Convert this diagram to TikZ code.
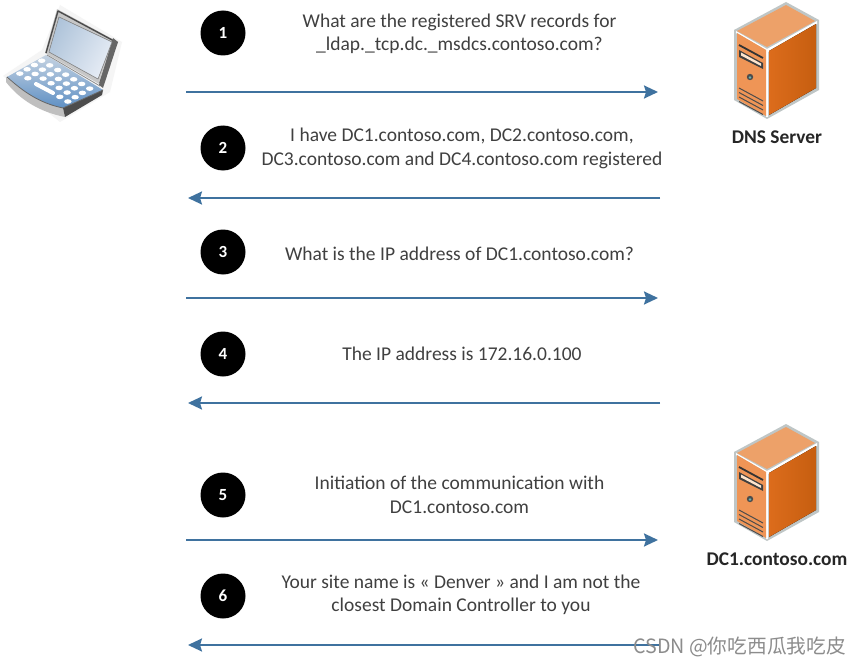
\documentclass[tikz,border=0pt]{standalone}
\usepackage{fontspec}
\setmainfont{Carlito}
\newfontfamily\cjk{Noto Sans CJK SC}
\usetikzlibrary{arrows.meta}
\definecolor{arrowblue}{HTML}{3F729F}
\definecolor{txt}{HTML}{404040}
\definecolor{srvtop}{HTML}{EDA169}
\definecolor{srvfront}{HTML}{EF9556}
\definecolor{srvsideA}{HTML}{DC6C1C}
\definecolor{srvsideB}{HTML}{C65E10}
\definecolor{srvedge}{HTML}{BFC6C6}
\definecolor{kbA}{HTML}{5F90C4}
\definecolor{kbB}{HTML}{C5D3E2}
\definecolor{scrA}{HTML}{AFC4DA}
\definecolor{scrB}{HTML}{E6ECF5}
\tikzset{
  msg/.style={align=center,font=\fontsize{19.5}{23.5}\selectfont,text=txt,inner sep=0pt},
  num/.style={circle,fill=black,text=white,minimum size=45pt,inner sep=0pt,font=\fontsize{17}{20}\selectfont\bfseries},
  flow/.style={draw=arrowblue,line width=2.2pt,-{Stealth[length=14pt,width=13pt,inset=2pt]}},
  srvlabel/.style={font=\fontsize{19.4}{22}\selectfont\bfseries,text=black!85,inner sep=0pt}
}
\newcommand{\serverpic}[1]{%
\begin{scope}[shift={(0,#1)}]
  \fill[srvedge] (786,2)--(819,20)--(819,90)--(767,119)--(734,100)--(734,30)--cycle;
  \fill[white] (736,31)--(767,49)--(817,21)--(817,24)--(768,52)--(768,117)--(766,117)--(766,50)--(736,33)--cycle;
  \fill[srvtop] (786,5)--(815,21)--(767,47)--(737,31)--cycle;
  \fill[left color=srvsideA,right color=srvsideB] (769,51)--(816,24)--(816,88)--(769,115)--cycle;
  \fill[srvfront] (737,33)--(766,50)--(766,116)--(737,99)--cycle;
  \draw[black!80,line width=1.8pt] (739,45)--(763,58);
  \fill[black!75] (739,50)--(763,63)--(763,69)--(739,57)--cycle;
  \fill[white!80!orange] (741,52.5)--(761,63.5)--(761,66)--(741,55.5)--cycle;
  \fill[black!70] (750,77) circle (3.2pt);
  \fill[teal!60!white] (750,77.5) circle (1.4pt);
  \foreach \d in {0,4.5,9,13.5}{
    \draw[black!70,line width=1pt] (739,88+\d)--(763,101+\d);
  }
\end{scope}}
\begin{document}
\begin{tikzpicture}[x=1pt,y=-1pt]
\useasboundingbox (0,0) rectangle (859,666);
\fill[white] (0,0) rectangle (859,666);
% laptop: soft shadow
\fill[black!4] (3,76)--(60,122)--(110,92)--(122,42)--(60,5)--(42,50)--cycle;
% laptop lid
\fill[black!22,line join=round] (45,53)--(57,9)--(118,42)--(101,85)--cycle;
\draw[black!70,line width=1.4pt,line join=round] (46,53)--(58,11)--(114,41)--(100,83);
\fill[black!60] (113,38)--(118,42)--(103,88)--(99,85)--cycle;
\fill[left color=scrA,right color=scrB,shading angle=60] (49,52)--(59,17)--(112,42)--(98,79)--cycle;
\draw[black!45,line width=0.6pt] (49,52)--(59,17)--(112,42)--(98,79)--cycle;
% laptop base
\fill[black!25] (6,77) .. controls (28,96) and (44,104) .. (63,108)--(65,117) .. controls (40,112) and (20,100) .. (6,82)--cycle;
\fill[black!70] (63,108)--(103,90)--(102,95)--(65,117)--cycle;
\shade[bottom color=kbA,top color=kbB] (7,77)--(46,55)--(103,90)--(63,108) .. controls (44,104) and (28,96) .. (7,77)--cycle;
\draw[black!60,line width=0.8pt] (7,77) .. controls (28,96) and (44,104) .. (63,108)--(103,90);
\draw[black!45,line width=0.8pt] (47,55)--(100,86);
% keys
\foreach \j in {0,...,3}{
  \foreach \i in {0,...,6}{
    \pgfmathsetmacro{\kx}{41.7+8*\i-7.3*\j}
    \pgfmathsetmacro{\ky}{60.7+4.65*\i+4.3*\j}
    \ifnum\j=3
      \ifnum\i>1 \ifnum\i<5 \else
        \fill[white] (\kx,\ky) ellipse [x radius=3.7,y radius=2.3];
      \fi \else
        \fill[white] (\kx,\ky) ellipse [x radius=3.7,y radius=2.3];
      \fi
    \else
      \fill[white] (\kx,\ky) ellipse [x radius=3.7,y radius=2.3];
    \fi
  }
}
\draw[white,line width=4pt,line cap=round] (36,84)--(53,93);
% servers
\serverpic{0}
\serverpic{422}
\node[srvlabel] (dns) at (777,137) {DNS Server};
\node[srvlabel] (dc) at (777,559) {DC1.contoso.com};
% circles
\node[num] (n1) at (223,33) {1};
\node[num] (n2) at (223,148) {2};
\node[num] (n3) at (223,252) {3};
\node[num] (n4) at (223,354) {4};
\node[num] (n5) at (223,495) {5};
\node[num] (n6) at (223,596) {6};
% messages
\node[msg] (m1) at (459.5,34) {What are the registered SRV records for\\\_ldap.\_tcp.dc.\_msdcs.contoso.com?};
\node[msg] (m2) at (462,148.5) {I have DC1.contoso.com, DC2.contoso.com,\\DC3.contoso.com and DC4.contoso.com registered};
\node[msg] (m3) at (459.5,254) {What is the IP address of DC1.contoso.com?};
\node[msg] (m4) at (462,354) {The IP address is 172.16.0.100};
\node[msg] (m5) at (459.5,495) {Initiation of the communication with\\DC1.contoso.com};
\node[msg] (m6) at (461,595) {Your site name is « Denver » and I am not the\\closest Domain Controller to you};
% arrow ends
\foreach \n/\y in {1/92,3/298,5/540}{
  \coordinate (l\n) at (186,\y);
  \coordinate (r\n) at (658,\y);
}
\foreach \n/\y in {2/198,4/403,6/645}{
  \coordinate (l\n) at (188,\y);
  \coordinate (r\n) at (660,\y);
}
\draw[flow] (l1)--(r1);
\draw[flow] (r2)--(l2);
\draw[flow] (l3)--(r3);
\draw[flow] (r4)--(l4);
\draw[flow] (l5)--(r5);
\draw[flow] (r6)--(l6);
% watermark
\node[anchor=east,inner sep=0pt,text=black!45,font=\fontsize{19.7}{22}\selectfont\cjk] (wm) at (846,647) {CSDN @你吃西瓜我吃皮};
\end{tikzpicture}
\end{document}
